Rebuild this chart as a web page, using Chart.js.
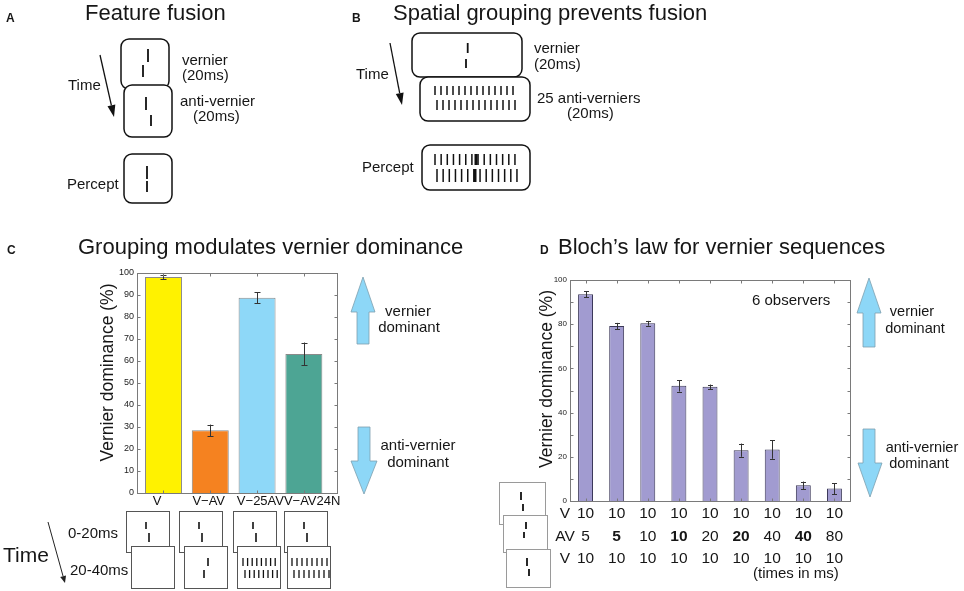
<!DOCTYPE html>
<html><head><meta charset="utf-8">
<script src="https://cdn.jsdelivr.net/npm/chart.js@4.4.1/dist/chart.umd.min.js"></script>
<style>
html,body{margin:0;padding:0;background:#fff;}
#wrap{position:relative;width:964px;height:591px;overflow:hidden;background:#fff;}
#cC{position:absolute;left:80px;top:262px;}
#cD{position:absolute;left:490px;top:262px;}
#art{position:absolute;left:0;top:0;}
#art text{font-family:"Liberation Sans",Arial,Helvetica,sans-serif;fill:#161616;}
</style></head><body>
<div id="wrap">
<canvas id="cC" width="262" height="250"></canvas>
<canvas id="cD" width="370" height="329"></canvas>
<svg id="art" width="964" height="591" xmlns="http://www.w3.org/2000/svg">
<!-- Panel A -->
<text x="6" y="22" font-size="12" font-weight="bold">A</text>
<text x="85" y="20" font-size="22">Feature fusion</text>
<rect x="121" y="39" width="48" height="50" rx="8" fill="#fff" stroke="#111" stroke-width="1.5"/>
<line x1="148" y1="49" x2="148" y2="62" stroke="#111" stroke-width="1.8"/>
<line x1="143" y1="65" x2="143" y2="77" stroke="#111" stroke-width="1.8"/>
<rect x="124" y="85" width="48" height="52" rx="8" fill="#fff" stroke="#111" stroke-width="1.5"/>
<line x1="146" y1="97" x2="146" y2="110" stroke="#111" stroke-width="1.8"/>
<line x1="151" y1="115" x2="151" y2="126" stroke="#111" stroke-width="1.8"/>
<text x="182" y="65" font-size="15">vernier</text>
<text x="182" y="80" font-size="15">(20ms)</text>
<text x="180" y="106" font-size="15">anti-vernier</text>
<text x="193" y="121" font-size="15">(20ms)</text>
<text x="68" y="90" font-size="15">Time</text>
<line x1="100" y1="55" x2="111.4" y2="105.3" stroke="#111" stroke-width="1.3"/>
<polygon points="114,117 115.3,104.4 107.5,106.2" fill="#111"/>
<rect x="124" y="154" width="48" height="49" rx="8" fill="#fff" stroke="#111" stroke-width="1.5"/>
<line x1="147" y1="166" x2="147" y2="179" stroke="#111" stroke-width="1.8"/>
<line x1="147" y1="181" x2="147" y2="192" stroke="#111" stroke-width="1.8"/>
<text x="67" y="189" font-size="15">Percept</text>
<!-- Panel B -->
<text x="352" y="22" font-size="12" font-weight="bold">B</text>
<text x="393" y="20" font-size="22">Spatial grouping prevents fusion</text>
<rect x="412" y="33" width="110" height="44" rx="8" fill="#fff" stroke="#111" stroke-width="1.5"/>
<line x1="467.7" y1="43" x2="467.7" y2="53" stroke="#111" stroke-width="1.8"/>
<line x1="466" y1="59" x2="466" y2="68" stroke="#111" stroke-width="1.8"/>
<rect x="420" y="77" width="110" height="44" rx="8" fill="#fff" stroke="#111" stroke-width="1.5"/>
<g id="bgrid"></g>
<text x="534" y="53" font-size="15">vernier</text>
<text x="534" y="69" font-size="15">(20ms)</text>
<text x="537" y="103" font-size="15">25 anti-verniers</text>
<text x="567" y="118" font-size="15">(20ms)</text>
<text x="356" y="79" font-size="15">Time</text>
<line x1="390" y1="43" x2="399.7" y2="93.2" stroke="#111" stroke-width="1.3"/>
<polygon points="402,105 403.6,92.4 395.8,94.0" fill="#111"/>
<rect x="422" y="145" width="108" height="45" rx="8" fill="#fff" stroke="#111" stroke-width="1.5"/>
<g id="pgrid"></g>
<text x="362" y="172" font-size="15">Percept</text>
<!-- Panel C -->
<text x="7" y="254" font-size="12" font-weight="bold">C</text>
<text x="78" y="254" font-size="22">Grouping modulates vernier dominance</text>
<text transform="translate(113,372.5) rotate(-90)" text-anchor="middle" font-size="17.5">Vernier dominance (%)</text>
<polygon points="363,277 375,312 369,312 369,344 357,344 357,312 351,312" fill="#8dd7f7" stroke="#7d9fae" stroke-width="0.8"/>
<polygon points="358,427 370,427 370,461 377,461 364,494 351,461 358,461" fill="#8dd7f7" stroke="#7d9fae" stroke-width="0.8"/>
<text x="408" y="316" font-size="15" text-anchor="middle">vernier</text>
<text x="409" y="332" font-size="15" text-anchor="middle">dominant</text>
<text x="418" y="450" font-size="15" text-anchor="middle">anti-vernier</text>
<text x="418" y="467" font-size="15" text-anchor="middle">dominant</text>
<g id="cboxes"></g>
<text x="68" y="538" font-size="15">0-20ms</text>
<text x="70" y="575" font-size="15">20-40ms</text>
<text x="3" y="562" font-size="21">Time</text>
<line x1="48" y1="522" x2="63.1" y2="576.3" stroke="#222" stroke-width="1"/>
<polygon points="65,583 66,575.5 60.2,577.1" fill="#222"/>
<!-- Panel D -->
<text x="540" y="254" font-size="12" font-weight="bold">D</text>
<text x="558" y="254" font-size="22">Bloch’s law for vernier sequences</text>
<text transform="translate(552,379) rotate(-90)" text-anchor="middle" font-size="17.5">Vernier dominance (%)</text>
<text x="752" y="305" font-size="15">6 observers</text>
<polygon points="869,278 881,313 875,313 875,347 863,347 863,313 857,313" fill="#8dd7f7" stroke="#7d9fae" stroke-width="0.8"/>
<polygon points="863,429 875,429 875,463 882,463 870,497 858,463 863,463" fill="#8dd7f7" stroke="#7d9fae" stroke-width="0.8"/>
<text x="912" y="316" font-size="14.5" text-anchor="middle">vernier</text>
<text x="915" y="333" font-size="14.5" text-anchor="middle">dominant</text>
<text x="922" y="452" font-size="14.5" text-anchor="middle">anti-vernier</text>
<text x="919" y="468" font-size="14.5" text-anchor="middle">dominant</text>
<rect x="499.5" y="482.5" width="46" height="42" fill="#fff" stroke="#9a9a9a" stroke-width="1"/>
<line x1="521" y1="492" x2="521" y2="500" stroke="#111" stroke-width="1.8"/>
<line x1="523" y1="504" x2="523" y2="511" stroke="#111" stroke-width="1.8"/>
<rect x="503.5" y="515.5" width="44" height="37" fill="#fff" stroke="#9a9a9a" stroke-width="1"/>
<line x1="526" y1="522" x2="526" y2="529" stroke="#111" stroke-width="1.8"/>
<line x1="524" y1="532" x2="524" y2="538" stroke="#111" stroke-width="1.8"/>
<rect x="506.5" y="549.5" width="44" height="38" fill="#fff" stroke="#9a9a9a" stroke-width="1"/>
<line x1="527" y1="558" x2="527" y2="566" stroke="#111" stroke-width="1.8"/>
<line x1="529" y1="569" x2="529" y2="576" stroke="#111" stroke-width="1.8"/>
<text x="753" y="578" font-size="15">(times in ms)</text>
</svg>
</div>
<script>
// ---------- Panel C data ----------
const catsC = ["V", "V\u2212AV", "V\u221225AV", "V\u2212AV24N"];
const valsC = [98.2, 28.5, 88.8, 63.2];
const errC = [0.9, 2.6, 2.5, 5.2];
const colorsC = ["#fff200", "#f58220", "#8ed8f8", "#4da594"];
const yTicksC = [0, 10, 20, 30, 40, 50, 60, 70, 80, 90, 100];

// ---------- Panel D data ----------
const rowV1 = [10, 10, 10, 10, 10, 10, 10, 10, 10];
const rowAV = [5, 5, 10, 10, 20, 20, 40, 40, 80];
const boldAV = [false, true, false, true, false, true, false, true, false];
const rowV2 = [10, 10, 10, 10, 10, 10, 10, 10, 10];
const valsD = [93.5, 79.2, 80.4, 52.1, 51.7, 23.0, 23.3, 7.1, 5.6];
const errD = [1.3, 1.4, 1.1, 2.6, 1.0, 3.0, 4.2, 1.7, 2.5];
const catsD = rowV1.map((v, i) => v + "/" + rowAV[i] + "/" + rowV2[i]);
const yTicksLabelD = [0, 20, 40, 60, 80, 100];

const FAMILY = '"Liberation Sans", Arial, Helvetica, sans-serif';
Chart.defaults.font.family = FAMILY;

// ---------- diagram decorations ----------
const NS = "http://www.w3.org/2000/svg";
function ln(g, x1, y1, x2, y2, w, c) {
  const l = document.createElementNS(NS, "line");
  l.setAttribute("x1", x1); l.setAttribute("y1", y1);
  l.setAttribute("x2", x2); l.setAttribute("y2", y2);
  l.setAttribute("stroke", c || "#111"); l.setAttribute("stroke-width", w);
  g.appendChild(l);
}
function rc(g, x, y, w, h, stroke) {
  const r = document.createElementNS(NS, "rect");
  r.setAttribute("x", x); r.setAttribute("y", y);
  r.setAttribute("width", w); r.setAttribute("height", h);
  r.setAttribute("fill", "#fff"); r.setAttribute("stroke", stroke); r.setAttribute("stroke-width", 1);
  g.appendChild(r);
}
const bg = document.getElementById("bgrid");
for (let k = 0; k < 14; k++) { ln(bg, 435 + 6 * k, 86, 435 + 6 * k, 95, 1.5); ln(bg, 437 + 6 * k, 100, 437 + 6 * k, 110, 1.5); }
const pg = document.getElementById("pgrid");
for (let k = 0; k < 14; k++) { ln(pg, 435 + 6.15 * k, 154, 435 + 6.15 * k, 165, 1.5); ln(pg, 437 + 6.15 * k, 169, 437 + 6.15 * k, 182, 1.5); }
ln(pg, 476, 154, 476, 165, 3); ln(pg, 475, 169, 475, 182, 3);

const cb = document.getElementById("cboxes");
const topX = [126, 179, 233, 284], botX = [131, 184, 237, 287];
topX.forEach(x => {
  rc(cb, x + 0.5, 511.5, 43, 41, "#555");
  ln(cb, x + 20, 522, x + 20, 529, 1.6); ln(cb, x + 23, 533, x + 23, 542, 1.6);
});
botX.forEach((x, i) => {
  rc(cb, x + 0.5, 546.5, 43, 42, "#555");
  if (i === 1) { ln(cb, x + 24, 558, x + 24, 566, 1.6); ln(cb, x + 20, 570, x + 20, 578, 1.6); }
  if (i === 2) { for (let k = 0; k < 8; k++) { ln(cb, x + 6 + 4.6 * k, 558, x + 6 + 4.6 * k, 566, 1.3); ln(cb, x + 8 + 4.6 * k, 570, x + 8 + 4.6 * k, 578, 1.3); } }
  if (i === 3) { for (let k = 0; k < 8; k++) { ln(cb, x + 5 + 5 * k, 558, x + 5 + 5 * k, 566, 1.3); ln(cb, x + 7 + 5 * k, 570, x + 7 + 5 * k, 578, 1.3); } }
});

// ---------- plugins ----------
const framePlugin = {
  id: "frame",
  afterDatasetsDraw(chart, args, o) {
    const { ctx, chartArea: a } = chart;
    const xs = chart.scales.x, ys = chart.scales.y;
    ctx.save();
    // error bars
    const meta = chart.getDatasetMeta(0);
    ctx.strokeStyle = o.errColor; ctx.lineWidth = 1;
    meta.data.forEach((el, i) => {
      const v = o.values[i], e = o.errors[i];
      const x = Math.round(el.x) + 0.5;
      const y1 = ys.getPixelForValue(v + e), y2 = ys.getPixelForValue(v - e);
      ctx.beginPath();
      ctx.moveTo(x, y1); ctx.lineTo(x, y2);
      ctx.moveTo(x - o.cap, Math.round(y1) + 0.5); ctx.lineTo(x + o.cap, Math.round(y1) + 0.5);
      ctx.moveTo(x - o.cap, Math.round(y2) + 0.5); ctx.lineTo(x + o.cap, Math.round(y2) + 0.5);
      ctx.stroke();
    });
    // box
    ctx.strokeStyle = o.color; ctx.lineWidth = 1;
    const L = Math.round(a.left) + 0.5, R = Math.round(a.right) + 0.5, T = Math.round(a.top) + 0.5, B = Math.round(a.bottom) + 0.5;
    ctx.strokeRect(L, T, R - L, B - T);
    // inward ticks
    ctx.beginPath();
    ys.ticks.forEach(t => {
      const py = Math.round(ys.getPixelForValue(t.value)) + 0.5;
      ctx.moveTo(L, py); ctx.lineTo(L + o.len, py);
      ctx.moveTo(R, py); ctx.lineTo(R - o.len, py);
    });
    xs.ticks.forEach((t, i) => {
      const px = Math.round(xs.getPixelForTick(i)) + 0.5;
      ctx.moveTo(px, T); ctx.lineTo(px, T + o.len);
      ctx.moveTo(px, B); ctx.lineTo(px, B - o.len);
    });
    ctx.stroke();
    ctx.restore();
  }
};

const rowsPlugin = {
  id: "rows",
  afterDraw(chart, args, o) {
    const { ctx } = chart;
    const xs = chart.scales.x;
    ctx.save();
    ctx.fillStyle = "#161616";
    ctx.textAlign = "center";
    ctx.textBaseline = "alphabetic";
    o.rows.forEach(r => {
      ctx.font = o.size + "px " + FAMILY;
      ctx.fillText(r.label, o.labelX, r.y);
      r.values.forEach((v, i) => {
        ctx.font = ((r.bold && r.bold[i]) ? "bold " : "") + o.size + "px " + FAMILY;
        ctx.fillText(String(v), xs.getPixelForValue(i), r.y);
      });
    });
    ctx.restore();
  }
};

// ---------- Chart C ----------
new Chart(document.getElementById("cC"), {
  type: "bar",
  data: {
    datasets: [{
      data: catsC.map((c, i) => ({ x: i + 1, y: valsC[i] })),
      backgroundColor: colorsC,
      borderColor: "#8a8a8a",
      borderWidth: 1,
      categoryPercentage: 1,
      barPercentage: 0.79
    }]
  },
  options: {
    responsive: false,
    animation: false,
    layout: { padding: { top: 11, right: 5, left: 0, bottom: 0 } },
    plugins: {
      legend: { display: false },
      tooltip: { enabled: false },
      frame: { values: valsC, errors: errC, cap: 3, len: 3, color: "#7a7a7a", errColor: "#333" }
    },
    scales: {
      x: {
        type: "linear", position: "bottom", min: 0.434, max: 4.707, offset: false,
        grid: { display: false, drawTicks: false }, border: { display: false },
        afterBuildTicks: s => { s.ticks = catsC.map((_, i) => ({ value: i + 1 })); },
        afterFit: s => { s.height = 0; },
        ticks: { display: false }
      },
      xLabels: {
        axis: "x", type: "linear", position: "bottom", min: 0.613, max: 4.48, offset: false,
        grid: { display: false, drawTicks: false }, border: { display: false },
        afterBuildTicks: s => { s.ticks = catsC.map((_, i) => ({ value: i + 1 })); },
        afterFit: s => { s.height = 19; },
        ticks: { autoSkip: false, maxRotation: 0, minRotation: 0, padding: 1, font: { size: 13 }, color: "#111",
          callback: v => catsC[Math.round(v) - 1] }
      },
      y: {
        min: 0, max: 100,
        grid: { display: false, drawTicks: false }, border: { display: false },
        afterBuildTicks: s => { s.ticks = yTicksC.map(v => ({ value: v })); },
        afterFit: s => { s.width = 57; },
        ticks: { padding: 3, font: { size: 9 }, color: "#222" }
      }
    }
  },
  plugins: [framePlugin]
});

// ---------- Chart D ----------
new Chart(document.getElementById("cD"), {
  type: "bar",
  data: {
    labels: catsD,
    datasets: [{
      data: valsD,
      backgroundColor: "#a19bd0",
      borderColor: "#3b3858",
      borderWidth: 1,
      categoryPercentage: 1,
      barPercentage: 0.48
    }]
  },
  options: {
    responsive: false,
    animation: false,
    layout: { padding: { top: 18, right: 10, left: 0, bottom: 0 } },
    plugins: {
      legend: { display: false },
      tooltip: { enabled: false },
      frame: { values: valsD, errors: errD, cap: 2.5, len: 3, color: "#7a7a7a", errColor: "#333" },
      rows: {
        size: 15.5, labelX: 75,
        rows: [
          { label: "V", values: rowV1, y: 256 },
          { label: "AV", values: rowAV, bold: boldAV, y: 279 },
          { label: "V", values: rowV2, y: 301 }
        ]
      }
    },
    scales: {
      x: {
        type: "category", offset: true,
        grid: { display: false, drawTicks: false }, border: { display: false },
        ticks: { display: false },
        afterFit: s => { s.height = 90; }
      },
      y: {
        min: 0, max: 100,
        grid: { display: false, drawTicks: false }, border: { display: false },
        afterFit: s => { s.width = 80; },
        ticks: { stepSize: 10, padding: 3, font: { size: 8 }, color: "#222",
          callback: v => (yTicksLabelD.includes(v) ? String(v) : "") }
      }
    }
  },
  plugins: [framePlugin, rowsPlugin]
});
</script>
</body></html>
